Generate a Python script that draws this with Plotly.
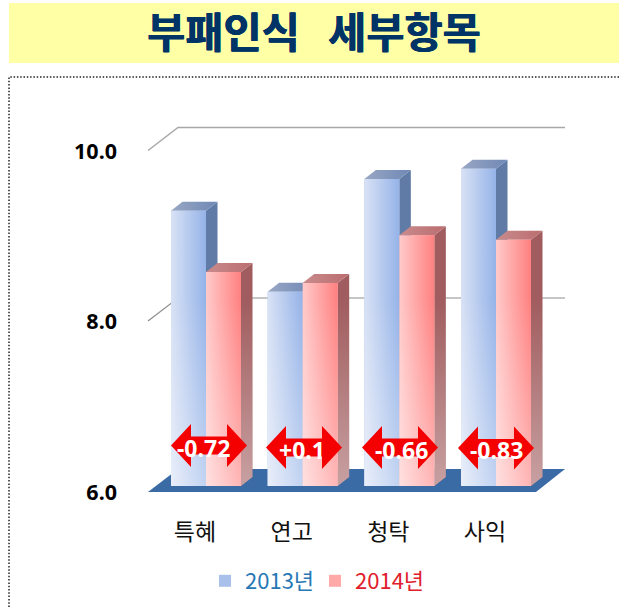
import plotly.graph_objects as go

categories = ["특혜", "연고", "청탁", "사익"]
values_2013 = [9.23, 8.28, 9.60, 9.72]
values_2014 = [8.51, 8.38, 8.94, 8.89]
change_labels = ["-0.72", "+0.1", "-0.66", "-0.83"]
y_ticks = [6, 8, 10]
y_tick_labels = ["6.0", "8.0", "10.0"]

W, H = 619, 607
L, R, T, B = 122, 49, 112, 112      # plot rect in px
PW, PH = W - L - R, H - T - B
X0 = 206; PITCH = 96.67             # px of group 0 centre, px per group
Y6 = 486; UNIT = 85.25              # px of value 6, px per unit

def xpx(v): return (v - X0) / PITCH
def ypx(v): return 6 + (Y6 - v) / UNIT
def xp(v): return (v - L) / PW
def yp(v): return 1 - (v - T) / PH

xrange_ = [xpx(L), xpx(W - R)]
yrange_ = [ypx(H - B), ypx(T)]

BW = 35 / PITCH
DX = 11.5 / PITCH
DY = 9 / UNIT
FADE_TOP = 8.2

fig = go.Figure()

STY = {
    "2013년": dict(color="#a9c0ea", grad=[[0, "#d9e2f5"], [1, "#95b3e8"]],
                  side="#5f7ba6", top=[[0, "#99a7c4"], [1, "#6f88b5"]], txt="#2878b5"),
    "2014년": dict(color="#ffa9a9", grad=[[0, "#ffcaca"], [1, "#ff8080"]],
                  side="#a05c5e", top=[[0, "#c98b8c"], [1, "#bb6d6f"]], txt="#e0202c"),
}

series = [("2013년", values_2013, -1), ("2014년", values_2014, 0)]

for name, vals, off in series:
    s = STY[name]
    fig.add_trace(go.Bar(
        x=list(range(len(categories))), y=[v - 6 for v in vals], base=6,
        width=BW, offset=off * BW, name=f'<span style="color:{s["txt"]}">{name}</span>',
        marker=dict(color=s["color"], line_width=0), showlegend=True,
    ))

for i in range(len(categories)):
    for name, vals, off in series:
        s = STY[name]
        v = vals[i]
        xl, xr = i + off * BW, i + (off + 1) * BW
        fig.add_trace(go.Scatter(x=[xr, xr + DX, xr + DX, xr, xr], y=[6, 6 + DY, v + DY, v, 6],
                                 mode="lines", fill="toself", fillcolor=s["side"], line_width=0,
                                 showlegend=False, hoverinfo="skip"))
        fig.add_trace(go.Scatter(x=[xl, xl + DX, xr + DX, xr, xl], y=[v, v + DY, v + DY, v, v],
                                 mode="lines", line_width=0, fill="toself",
                                 fillgradient=dict(type="horizontal", colorscale=s["top"]),
                                 showlegend=False, hoverinfo="skip"))
        fig.add_trace(go.Scatter(x=[xl, xr, xr, xl, xl], y=[6, 6, v, v, 6],
                                 mode="lines", line_width=0, fill="toself",
                                 fillgradient=dict(type="horizontal", colorscale=s["grad"]),
                                 showlegend=False, hoverinfo="skip"))
        # pale fade towards the floor, over front and side
        fig.add_trace(go.Scatter(x=[xl, xr, xr + DX, xr + DX, xr, xl, xl],
                                 y=[6, 6, 6 + DY, FADE_TOP, FADE_TOP, FADE_TOP, 6],
                                 mode="lines", line_width=0, fill="toself",
                                 fillgradient=dict(type="vertical",
                                                   colorscale=[[0, "rgba(255,255,255,0.42)"],
                                                               [1, "rgba(255,255,255,0)"]]),
                                 showlegend=False, hoverinfo="skip"))

AW, AH = 38 / PITCH, 21.5 / UNIT
SH = 9 / UNIT; HW = 20 / PITCH
ACX = [xpx(209), xpx(304), xpx(400), xpx(496)]
ACY = [ypx(445.5), ypx(447.5), ypx(447.5), ypx(448)]
TCX = [xpx(203), xpx(301.5), xpx(401), xpx(496.5)]
TCY = [ypx(447.5), ypx(450), ypx(449.5), ypx(450)]
for i, lab in enumerate(change_labels):
    c = ACX[i]; cy = ACY[i]
    xs = [c - AW, c - AW + HW, c - AW + HW, c + AW - HW, c + AW - HW, c + AW, c + AW - HW, c + AW - HW, c - AW + HW, c - AW + HW, c - AW]
    ys = [cy, cy + AH, cy + SH, cy + SH, cy + AH, cy, cy - AH, cy - SH, cy - SH, cy - AH, cy]
    fig.add_trace(go.Scatter(x=xs, y=ys, mode="lines", fill="toself", fillcolor="#f40000", line_width=0,
                             showlegend=False, hoverinfo="skip"))
    fig.add_annotation(x=TCX[i], y=TCY[i], text=lab, showarrow=False,
                       font=dict(family="Noto Sans, sans-serif", size=23, color="white", weight="bold"))

shapes = []
shapes.append(dict(type="rect", xref="paper", yref="paper", x0=xp(9), x1=xp(619), y0=yp(3), y1=yp(63),
                   fillcolor="#ffffa6", line_width=0, layer="below"))
shapes.append(dict(type="path", xref="paper", yref="paper",
                   path=f"M {xp(9)} {yp(607)} L {xp(9)} {yp(77)} L {xp(619)} {yp(77)}",
                   line=dict(color="#222222", width=1.5, dash="1.5px,1.8px"), layer="below"))
fl = xpx(148); fr = xpx(536); fy = ypx(492)
bl = xpx(178); br = xpx(565); by = ypx(469)
shapes.append(dict(type="path", xref="x", yref="y",
                   path=f"M {fl} {fy} L {bl} {by} L {br} {by} L {fr} {fy} Z",
                   fillcolor="#3b6ba5", line_width=0, layer="below"))
GRID = {8: ("#8e8e8e", 1.2), 10: ("#a8a8a8", 1.5)}
for t in y_ticks[1:]:
    pf = ypx(Y6 + 5.5 - (t - 6) * UNIT)
    pb = ypx(Y6 - 17.5 - (t - 6) * UNIT)
    shapes.append(dict(type="path", xref="x", yref="y",
                       path=f"M {fl} {pf} L {bl} {pb} L {br} {pb}",
                       line=dict(color=GRID[t][0], width=GRID[t][1]), layer="below"))

fig.update_layout(
    width=W, height=H, margin=dict(l=L, r=R, t=T, b=B, pad=0, autoexpand=False),
    paper_bgcolor="white", plot_bgcolor="rgba(0,0,0,0)",
    barmode="overlay", shapes=shapes,
    title=dict(text="부패인식\u00a0\u00a0\u00a0세부항목", x=314 / W, xanchor="center",
               y=1 - 33 / H, yanchor="middle",
               font=dict(family="Noto Sans CJK KR", size=41.5, color="#003366", weight="bold",
                         shadow="0.4px 0 0 #003366, -0.4px 0 0 #003366")),
    xaxis=dict(range=xrange_, tickmode="array", tickvals=list(range(4)), ticktext=categories,
               showgrid=False, zeroline=False, showline=False, ticks="", ticklabelshift=-11,
               ticklabelstandoff=21,
               tickfont=dict(family="Noto Sans CJK KR", size=23, color="#111111")),
    yaxis=dict(range=yrange_, tickmode="array", tickvals=y_ticks, ticktext=y_tick_labels,
               showgrid=False, zeroline=False, showline=False, ticks="", ticklabelshift=6,
               ticklabelstandoff=4,
               tickfont=dict(family="Noto Sans, sans-serif", size=21.5, color="black", weight="bold")),
    legend=dict(orientation="h", x=xp(205), y=yp(560), xanchor="left", yanchor="top",
                font=dict(family="Noto Sans CJK KR, sans-serif", size=22), bgcolor="rgba(0,0,0,0)",
                entrywidth=65, entrywidthmode="pixels",
                itemclick=False, itemdoubleclick=False, tracegroupgap=0),
    showlegend=True, hovermode=False,
)

fig.write_html("out.html", config=dict(displayModeBar=False),
               post_script="document.body.style.margin='0';")
